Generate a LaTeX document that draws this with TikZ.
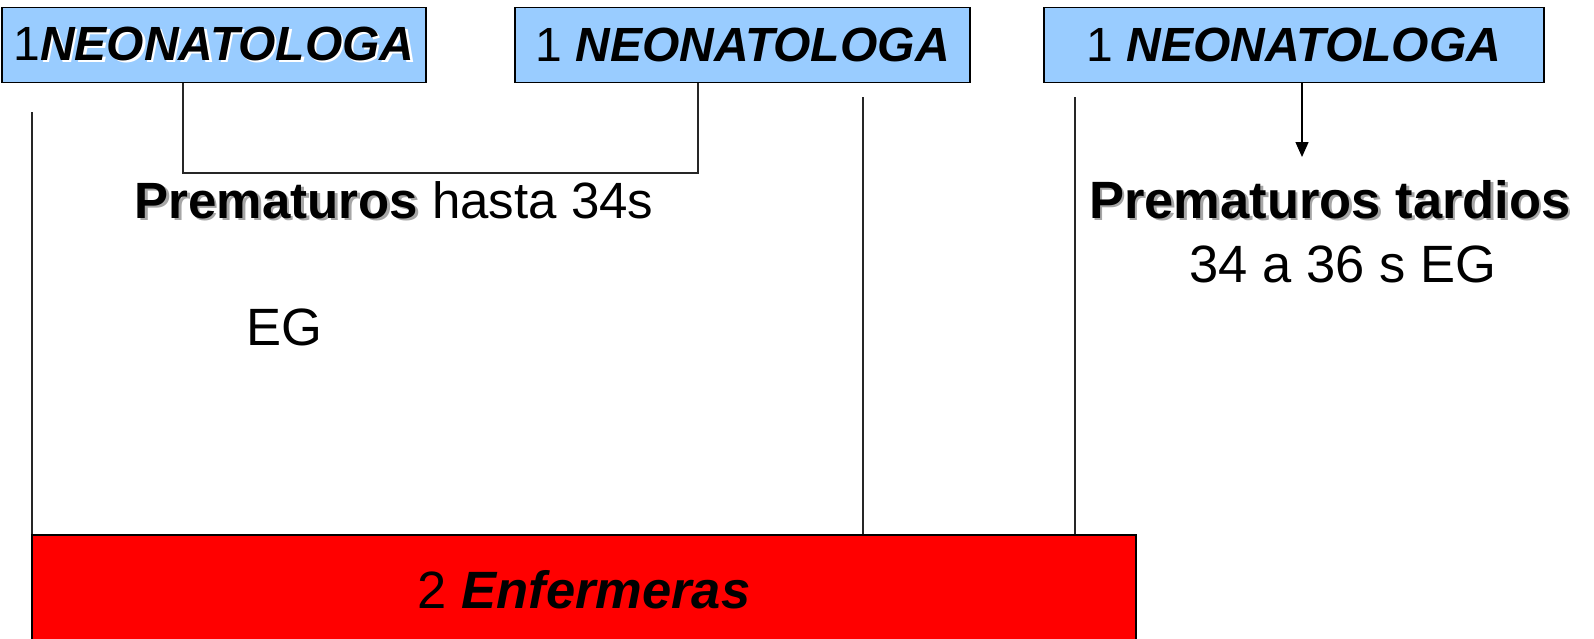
\documentclass[tikz,border=0pt]{standalone}
\usepackage{fontspec}
\setmainfont{Liberation Sans}
\usetikzlibrary{arrows.meta}
\definecolor{boxblue}{HTML}{99CCFF}
\definecolor{redfill}{HTML}{FF0000}
\definecolor{shadowgray}{HTML}{A6A6A6}
\definecolor{linegray}{HTML}{262626}
\newcommand\myshadowed[2]{\makebox[0pt][l]{\kern2.5pt\raisebox{-2.5pt}{\textcolor{#1}{#2}}}#2}
\tikzset{
  neobox/.style={draw=black, line width=1.8pt, fill=boxblue, minimum height=75pt,
    inner sep=0pt, font=\fontsize{48}{48}\selectfont},
  conn/.style={draw=linegray, line width=1.4pt},
  bigtext/.style={inner sep=0pt, anchor=base, font=\fontsize{51}{51}\selectfont},
  bigtextb/.style={inner sep=0pt, anchor=base, font=\fontsize{52.5}{52.5}\selectfont},
  redbox/.style={draw=black, line width=2.4pt, fill=redfill, inner sep=0pt,
    minimum width=1104pt, minimum height=110pt, font=\fontsize{52.5}{52.5}\selectfont}
}
\begin{document}
\begin{tikzpicture}[x=1pt,y=-1pt]
\useasboundingbox (0,0) rectangle (1594,638);
% top boxes
\node[neobox, minimum width=424pt] (b1) at (214,45) {1\myshadowed{white}{\textbf{\textit{NEONATOLOGA}}}};
\node[neobox, minimum width=455pt] (b2) at (742.5,45) {1 \textbf{\textit{NEONATOLOGA}}};
\node[neobox, minimum width=500pt] (b3) at (1294,45) {1 \textbf{\textit{NEONATOLOGA}}};
% bottom red box
\node[redbox] (b4) at (584,590) {2 \textbf{\textit{Enfermeras}}};
% texts
\node[bigtext] (p1) at (394,218) {\myshadowed{shadowgray}{\textbf{Prematuros}} hasta 34s};
\node[bigtextb] (eg) at (284,345) {EG};
\node[bigtextb] (p2) at (1330,218) {\myshadowed{shadowgray}{\textbf{Prematuros tardios}}};
\node[bigtextb] (p3) at (1343,282) {34 a 36 s EG};
% bracket between box 1 and box 2
\coordinate (j1) at (183,173);
\coordinate (j2) at (698,173);
\draw[conn] (b1.south -| j1) -- (j1) -- (j2) -- (b2.south -| j2);
% arrow from box 3
\coordinate (a3) at (1302,157);
\draw[conn, draw=black, -{Triangle[length=15pt,width=13pt]}] (b3.south -| a3) -- (a3);
% vertical lines to the red box
\coordinate (t1) at (32,112);
\coordinate (t2) at (863,97);
\coordinate (t3) at (1075,97);
\draw[conn] (t1) -- (t1 |- b4.north);
\draw[conn] (t2) -- (t2 |- b4.north);
\draw[conn] (t3) -- (t3 |- b4.north);
\end{tikzpicture}
\end{document}
